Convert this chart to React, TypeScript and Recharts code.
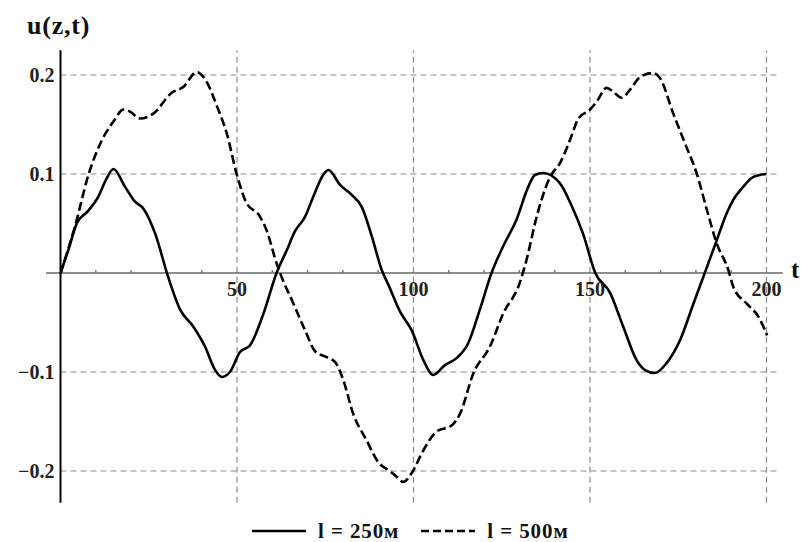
import React from 'react';
import { LineChart, Line, XAxis, YAxis, ReferenceLine, ReferenceDot, Legend } from 'recharts';

// l = 250 m (solid)
const solidT = [0, 2.2, 4.6, 7.9, 10.7, 13, 15.0, 18.3, 21.1, 23.5, 26.8, 30.5, 33.9, 37.6, 40.9, 43.8, 45.7, 48, 50.8, 53.7, 57.5, 61.2, 64.1, 66.4, 69.3, 71.6, 74.4, 75.9, 79.2, 82.5, 85.3, 88.2, 91, 92.9, 96.2, 99.5, 102.8, 105.6, 108.9, 112.2, 115.5, 118.8, 122.1, 125.4, 129.2, 132.5, 134.4, 136.7, 141.4, 144.8, 148, 151.5, 155.7, 159.4, 163.2, 165.6, 168.4, 171.7, 175.5, 179.3, 182.1, 185.9, 188.7, 190.6, 193.4, 195.8, 198.1, 200];
const solidU = [0, 0.023, 0.05, 0.063, 0.077, 0.095, 0.105, 0.087, 0.072, 0.065, 0.04, -0.004, -0.037, -0.054, -0.074, -0.098, -0.105, -0.1, -0.08, -0.073, -0.041, 0, 0.023, 0.042, 0.057, 0.077, 0.099, 0.104, 0.089, 0.079, 0.067, 0.037, 0.003, -0.012, -0.039, -0.058, -0.088, -0.103, -0.093, -0.086, -0.071, -0.037, 0, 0.027, 0.054, 0.087, 0.099, 0.101, 0.091, 0.068, 0.04, 0, -0.02, -0.054, -0.088, -0.098, -0.101, -0.091, -0.068, -0.031, -0.004, 0.033, 0.06, 0.074, 0.087, 0.096, 0.099, 0.1];

// l = 500 m (dashed)
const dashedT = [0, 4.1, 7.9, 11.7, 15, 17.8, 19.7, 22.5, 26.3, 31.5, 34.8, 38.6, 40.5, 44.7, 47.1, 49.9, 52.5, 56.5, 58.4, 61.2, 62.2, 66, 69.3, 72.1, 75.4, 77.8, 80.1, 82.9, 86.7, 90, 93.3, 95, 97.1, 99.5, 102.8, 106.6, 110.8, 113.2, 117, 121.7, 125.4, 130.1, 132, 134.9, 138.7, 141.5, 144.3, 146.7, 150, 151.9, 154.7, 156.6, 159, 161.3, 164.2, 167.9, 169.8, 173.6, 176.9, 180.2, 183.1, 185.9, 189.2, 190.6, 194.4, 197.7, 200.2];
const dashedU = [0, 0.047, 0.099, 0.134, 0.153, 0.165, 0.163, 0.156, 0.161, 0.182, 0.188, 0.203, 0.198, 0.165, 0.141, 0.1, 0.072, 0.057, 0.043, 0.01, 0, -0.031, -0.058, -0.079, -0.085, -0.09, -0.108, -0.142, -0.169, -0.191, -0.2, -0.205, -0.211, -0.202, -0.179, -0.16, -0.154, -0.142, -0.101, -0.074, -0.041, -0.01, 0.013, 0.057, 0.097, 0.111, 0.134, 0.156, 0.165, 0.173, 0.187, 0.183, 0.177, 0.185, 0.198, 0.202, 0.197, 0.161, 0.131, 0.101, 0.064, 0.03, 0.003, -0.014, -0.031, -0.044, -0.063];

const seriesNames = ['l = 250м', 'l = 500м'];
const xTicks = [50, 100, 150, 200];
const xMinorTicks = [10, 20, 30, 40, 60, 70, 80, 90, 110, 120, 130, 140, 160, 170, 180, 190];
const yTicks = [0.2, 0.1, -0.1, -0.2];
const xDomain = [0, 204];
const yDomain = [-0.232, 0.225];
const yTitle = 'u(z,t)';
const xTitle = 't';

const solidData = solidT.map((t, i) => ({ t, u: solidU[i] }));
const dashedData = dashedT.map((t, i) => ({ t, u: dashedU[i] }));

const FONT = '"Liberation Serif", "Times New Roman", serif';
const dashes = [undefined, '8 4'];

const LegendContent = (props: any) => {
  const payload = props.payload || [];
  return (
    <div style={{ display: 'flex', alignItems: 'center', fontFamily: FONT, fontWeight: 'bold', fontSize: 21, color: '#111', lineHeight: '20px' }}>
      {payload.map((e: any, i: number) => (
        <div key={i} style={{ display: 'flex', alignItems: 'center', marginRight: 22 }}>
          <svg width={54} height={6} style={{ display: 'block' }}>
            <line x1={0} y1={3} x2={54} y2={3} stroke="#000" strokeWidth={2.5} strokeDasharray={dashes[i]} />
          </svg>
          <span style={{ marginLeft: 12, letterSpacing: 0.9 }}>{e.value}</span>
        </div>
      ))}
    </div>
  );
};

const fmt = (v: number) => String(v).replace('-', '\u2212');

export default function App() {
  const labelStyle = { fontFamily: FONT, fontWeight: 'bold', fontSize: 20, fill: '#222' };
  return (
    <div style={{ position: 'absolute', left: 0, top: 0, width: 803, height: 542, background: '#fff' }}>
      <LineChart width={803} height={542} margin={{ top: 50.25, right: 22.4, left: 0, bottom: 39.3 }}>
        <XAxis type="number" dataKey="t" domain={xDomain} hide allowDataOverflow />
        <YAxis
          type="number"
          domain={yDomain}
          ticks={yTicks}
          width={60.5}
          allowDataOverflow
          axisLine={{ stroke: '#000', strokeWidth: 2 }}
          tickLine={false}
          tickSize={0}
          tickMargin={6}
          tick={labelStyle}
          tickFormatter={fmt}
        />
        {yTicks.map((v) => (
          <ReferenceLine key={'h' + v} y={v} stroke="#8a8a8a" strokeWidth={1.2} strokeDasharray="6 4" />
        ))}
        {xTicks.map((v) => (
          <ReferenceLine key={'v' + v} x={v} stroke="#8a8a8a" strokeWidth={1.2} strokeDasharray="6 4" />
        ))}
        <ReferenceLine segment={[{ x: -4.1, y: 0 }, { x: 204.6, y: 0 }]} ifOverflow="visible" stroke="#666" strokeWidth={1.5} />
        {xMinorTicks.map((v) => (
          <ReferenceLine key={'m' + v} segment={[{ x: v, y: 0 }, { x: v, y: 0.003 }]} stroke="#777" strokeWidth={1.5} />
        ))}
        {xTicks.map((v) => (
          <ReferenceDot
            key={'l' + v}
            x={v}
            y={0}
            r={0}
            stroke="none"
            fill="none"
            ifOverflow="visible"
            label={{ value: String(v), position: 'bottom', offset: 9, style: labelStyle }}
          />
        ))}
        <Line data={solidData} dataKey="u" name={seriesNames[0]} type="monotone" stroke="#000" strokeWidth={2.6} dot={false} activeDot={false} isAnimationActive={false} />
        <Line data={dashedData} dataKey="u" name={seriesNames[1]} type="monotone" stroke="#000" strokeWidth={2.6} strokeDasharray="9 4" dot={false} activeDot={false} isAnimationActive={false} />
        <Legend layout="vertical" align="center" verticalAlign="middle" wrapperStyle={{ left: 252, top: 521, width: 500 }} content={LegendContent} />
      </LineChart>
      <div style={{ position: 'absolute', left: 27, top: 13, fontFamily: FONT, fontWeight: 'bold', fontSize: 26, lineHeight: '26px', color: '#111', letterSpacing: 0.8 }}>{yTitle}</div>
      <div style={{ position: 'absolute', left: 791, top: 257, fontFamily: FONT, fontWeight: 'bold', fontSize: 25, lineHeight: '25px', color: '#111' }}>{xTitle}</div>
    </div>
  );
}
